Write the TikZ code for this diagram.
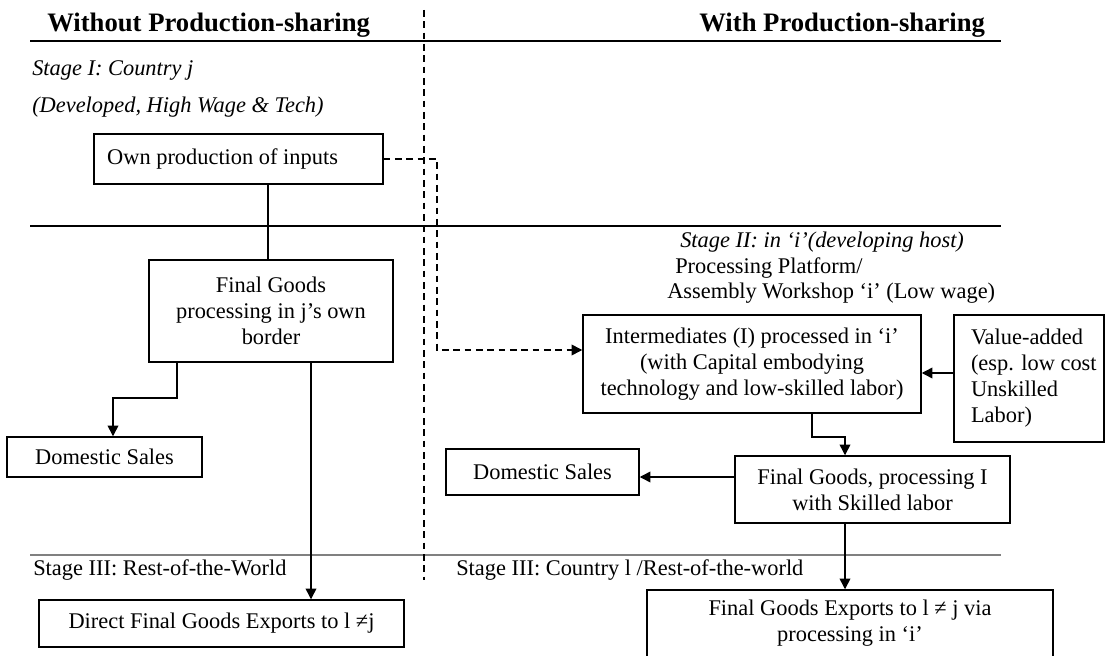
\documentclass[tikz,border=0pt]{standalone}
\usepackage{fontspec}
\setmainfont{Liberation Serif}
\usetikzlibrary{arrows.meta}
\newcommand{\vind}{\hspace*{9.75pt}}
\begin{document}
\begin{tikzpicture}[x=0.75pt,y=-0.75pt,
  every node/.style={font=\fontsize{16.8}{19.5}\selectfont, inner sep=0pt},
  box/.style={draw, line width=1.1pt, align=center},
  conn/.style={line width=1.1pt},
  arr/.style={line width=1.1pt, -{Triangle[length=8pt,width=8pt]}},
  darr/.style={line width=1.1pt, dash pattern=on 5pt off 3.5pt, -{Triangle[length=8pt,width=8pt]}},
  rule/.style={line width=0.9pt},
  ttl/.style={font=\fontsize{20}{22}\selectfont\bfseries, anchor=base west},
  lbl/.style={anchor=base west}]
\useasboundingbox (0,0) rectangle (1109,656);

% horizontal rules and divider
\draw[rule] (30,41) -- (1001,41);
\draw[rule] (30,226) -- (1001,226);
\draw[line width=0.8pt, draw=black!50] (30,555) -- (1001,555);
\draw[line width=1.1pt, dash pattern=on 5pt off 3.5pt] (424,10) -- (424,580);

% titles and stage labels
\node[ttl] (t1) at (47,32) {Without Production-sharing};
\node[ttl] (t2) at (699,32) {With Production-sharing};
\node[lbl] (s1) at (32,76) {\itshape Stage I: Country j};
\node[lbl] (s1b) at (32,113) {\itshape (Developed, High Wage \& Tech)};
\node[lbl] (s2) at (680,247) {\itshape Stage II: in ‘i’(developing host)};
\node[lbl] (s2b) at (675,273) {Processing Platform/};
\node[lbl] (s2c) at (667,298) {Assembly Workshop ‘i’ (Low wage)};
\node[lbl] (s3a) at (33,575) {Stage III: Rest-of-the-World};
\node[lbl] (s3b) at (456,575) {Stage III: Country l /Rest-of-the-world};

% boxes
\node[box, align=flush left, text width=197pt, inner xsep=9.75pt, minimum height=37.5pt] (own) at (238.5,159) {Own production of inputs};
\node[box, minimum width=183pt, minimum height=76.5pt] (fg1) at (271,311) {Final Goods\\processing in j’s own\\border};
\node[box, minimum width=146.25pt, minimum height=30pt] (ds1) at (104.5,457) {Domestic Sales};
\node[box, minimum width=273.75pt, minimum height=35.25pt] (dir) at (221.5,623.5) {Direct Final Goods Exports to l ≠j};
\node[box, minimum width=253.5pt, minimum height=73.5pt] (inter) at (752,364) {Intermediates (I) processed in ‘i’\\(with Capital embodying\\technology and low-skilled labor)};
\node[box, align=flush left, text width=106.5pt, inner xsep=3pt, minimum height=95.25pt] (va) at (1029,378.5) {\vind Value-added\\\vind(esp. low cost\\\vind Unskilled\\\vind Labor)};
\node[box, minimum width=206.25pt, minimum height=50.25pt] (fg2) at (872.5,489.5) {Final Goods, processing I\\with Skilled labor};
\node[box, minimum width=144.75pt, minimum height=34.5pt] (ds2) at (542.5,472) {Domestic Sales};
\node[box, minimum width=304.5pt, minimum height=50.25pt] (exp) at (850,623.5) {Final Goods Exports to l ≠ j via\\processing in ‘i’};

% helper coordinates
\coordinate (c1) at (268,0);
\coordinate (d1) at (437,159);
\coordinate (d2) at (437,350);
\coordinate (b1) at (177,0);
\coordinate (m1) at (113,398);
\coordinate (b2) at (311,0);
\coordinate (b3) at (812,0);
\coordinate (m2) at (845,437);
\coordinate (h1) at (0,373);
\coordinate (h2) at (0,477);

% connectors
\draw[conn] (own.south -| c1) -- (fg1.north -| c1);
\draw[darr] (own.east) -- (d1) -- (d2) -- (inter.west |- d2);
\draw[arr] (fg1.south -| b1) |- (m1) -- (ds1.north -| m1);
\draw[arr] (fg1.south -| b2) -- (dir.north -| b2);
\draw[arr] (va.west |- h1) -- (inter.east |- h1);
\draw[arr] (inter.south -| b3) |- (m2) -- (fg2.north -| m2);
\draw[arr] (fg2.west |- h2) -- (ds2.east |- h2);
\draw[arr] (fg2.south -| m2) -- (exp.north -| m2);
\end{tikzpicture}
\end{document}
